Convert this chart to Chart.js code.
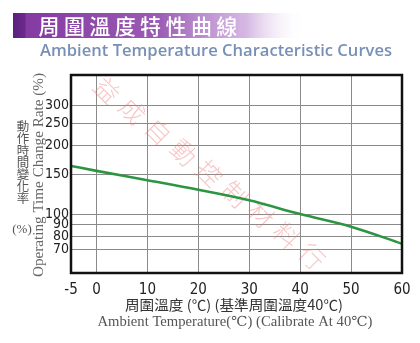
<!DOCTYPE html>
<html lang="zh-Hant">
<head>
    <meta charset="UTF-8">
    <title>周圍溫度特性曲線</title>
    <script src="https://cdn.jsdelivr.net/npm/chart.js"></script>
    <style>
        body {
            margin: 0;
            background: #ffffff;
        }
        canvas {
            display: block;
        }
    </style>
</head>
<body>
    <canvas id="tempChart" width="420" height="343"></canvas>

    <script>
        // values
        const temps = [-5, 0, 10, 20, 30, 40, 50, 60];
        const changeRate = [163, 155, 141, 128, 115, 100, 88, 74];
        const xTicks = [-5, 0, 10, 20, 30, 40, 50, 60];
        const yTicks = [70, 80, 90, 100, 150, 200, 250, 300];

        const titleZh = '周圍溫度特性曲線';
        const titleEn = 'Ambient Temperature Characteristic Curves';
        const yTitleZh = ['動', '作', '時', '間', '變', '化', '率'];
        const yTitleEn = 'Operating Time Change Rate (%)';
        const xTitleZh = '周圍溫度 (℃) (基準周圍溫度40℃)';
        const xTitleEn = 'Ambient Temperature(℃) (Calibrate At 40℃)';
        const watermark = '益成自動控制材料行';

        const narrow = "'Liberation Sans Narrow', 'DejaVu Sans Condensed', 'Liberation Sans', Arial, sans-serif";
        const cjk = "'Noto Sans CJK TC', 'Noto Sans CJK SC', sans-serif";
        const serif = "'Liberation Serif', 'DejaVu Serif', serif";

        // draw text squeezed/stretched to a given width
        function fitText(ctx, text, cx, cy, width) {
            const w = ctx.measureText(text).width;
            ctx.save();
            ctx.translate(cx, cy);
            ctx.scale(width / w, 1);
            ctx.textAlign = 'center';
            ctx.textBaseline = 'middle';
            ctx.fillText(text, 0, 0);
            ctx.restore();
        }

        const decor = {
            id: 'decor',
            beforeDraw(chart) {
                const ctx = chart.ctx;
                ctx.save();
                // title banner
                const g = ctx.createLinearGradient(13, 0, 305, 0);
                g.addColorStop(0, '#5b1f7c');
                g.addColorStop(0.04, '#6a2a8c');
                g.addColorStop(0.045, '#843aa2');
                g.addColorStop(0.5, '#9a5cb4');
                g.addColorStop(0.8, 'rgba(200,160,218,0.75)');
                g.addColorStop(1, 'rgba(255,255,255,0)');
                ctx.fillStyle = g;
                ctx.fillRect(13, 13, 292, 25);

                ctx.fillStyle = '#ffffff';
                ctx.font = '500 21px ' + cjk;
                ctx.textBaseline = 'middle';
                ctx.textAlign = 'center';
                for (let i = 0; i < titleZh.length; i++) {
                    ctx.fillText(titleZh[i], 49 + i * 25.4, 26);
                }

                ctx.fillStyle = '#7890b6';
                ctx.font = '600 17px ' + "'Open Sans', 'DejaVu Sans', sans-serif";
                fitText(ctx, titleEn, 216, 51, 352);

                // y title, Chinese stacked
                ctx.fillStyle = '#555555';
                ctx.font = '12.5px ' + cjk;
                ctx.textAlign = 'center';
                ctx.textBaseline = 'middle';
                yTitleZh.forEach((c, i) => ctx.fillText(c, 23, 126 + i * 12));
                ctx.font = '13px ' + serif;
                ctx.fillText('(%)', 22, 230);

                // y title, English rotated
                ctx.save();
                ctx.translate(39, 175);
                ctx.rotate(-Math.PI / 2);
                ctx.fillStyle = '#666666';
                ctx.font = '14px ' + serif;
                fitText(ctx, yTitleEn, 0, 0, 204);
                ctx.restore();

                // x titles
                ctx.fillStyle = '#333333';
                ctx.font = '14px ' + cjk;
                fitText(ctx, xTitleZh, 234, 305, 218);
                ctx.fillStyle = '#555555';
                ctx.font = '14px ' + serif;
                fitText(ctx, xTitleEn, 235, 322, 275);
                ctx.restore();
            },
            beforeDatasetsDraw(chart) {
                const ctx = chart.ctx;
                ctx.save();
                ctx.translate(107, 90);
                ctx.rotate(Math.atan2(167, 206));
                ctx.fillStyle = 'rgba(238, 120, 120, 0.42)';
                ctx.font = '300 25px ' + cjk;
                ctx.textAlign = 'center';
                ctx.textBaseline = 'middle';
                for (let i = 0; i < watermark.length; i++) {
                    ctx.save();
                    ctx.translate(i * 33, 0);
                    ctx.rotate(Math.PI / 4 - Math.atan2(167, 206));
                    ctx.fillText(watermark[i], 0, 0);
                    ctx.restore();
                }
                ctx.restore();
            },
            afterDraw(chart) {
                const a = chart.chartArea;
                const ctx = chart.ctx;
                ctx.save();
                ctx.strokeStyle = '#111111';
                ctx.lineWidth = 2.5;
                ctx.strokeRect(a.left, a.top, a.right - a.left, a.bottom - a.top);
                ctx.restore();
            }
        };

        const ctx = document.getElementById('tempChart').getContext('2d');

        const chart = new Chart(ctx, {
            type: 'line',
            data: {
                labels: temps,
                datasets: [{
                    label: 'Operating Time Change Rate',
                    data: temps.map((t, i) => ({ x: t, y: changeRate[i] })),
                    borderColor: '#2d9541',
                    borderWidth: 2.6,
                    pointRadius: 0,
                    cubicInterpolationMode: 'monotone',
                    fill: false
                }]
            },
            options: {
                responsive: false,
                animation: false,
                layout: {
                    padding: { top: 75, right: 18, left: 0, bottom: 0 }
                },
                plugins: {
                    legend: { display: false },
                    tooltip: { enabled: false }
                },
                scales: {
                    x: {
                        type: 'linear',
                        min: -5,
                        max: 60,
                        afterBuildTicks: (scale) => {
                            scale.ticks = xTicks.map(v => ({ value: v }));
                        },
                        afterFit: (scale) => { scale.height = 70; },
                        grid: { color: '#8a8a8a', lineWidth: 1, drawTicks: false },
                        border: { display: false },
                        ticks: {
                            padding: 8,
                            color: '#222222',
                            font: { family: narrow, size: 15 },
                            maxRotation: 0,
                            callback: (v) => String(v)
                        }
                    },
                    y: {
                        type: 'logarithmic',
                        min: 55,
                        max: 410,
                        afterBuildTicks: (scale) => {
                            scale.ticks = yTicks.map(v => ({ value: v }));
                        },
                        afterFit: (scale) => { scale.width = 71; },
                        grid: { color: '#8a8a8a', lineWidth: 1, drawTicks: false },
                        border: { display: false },
                        ticks: {
                            padding: 2,
                            color: '#222222',
                            font: { family: narrow, size: 14 },
                            callback: (v) => String(v)
                        }
                    }
                }
            },
            plugins: [decor]
        });
    </script>
</body>
</html>
